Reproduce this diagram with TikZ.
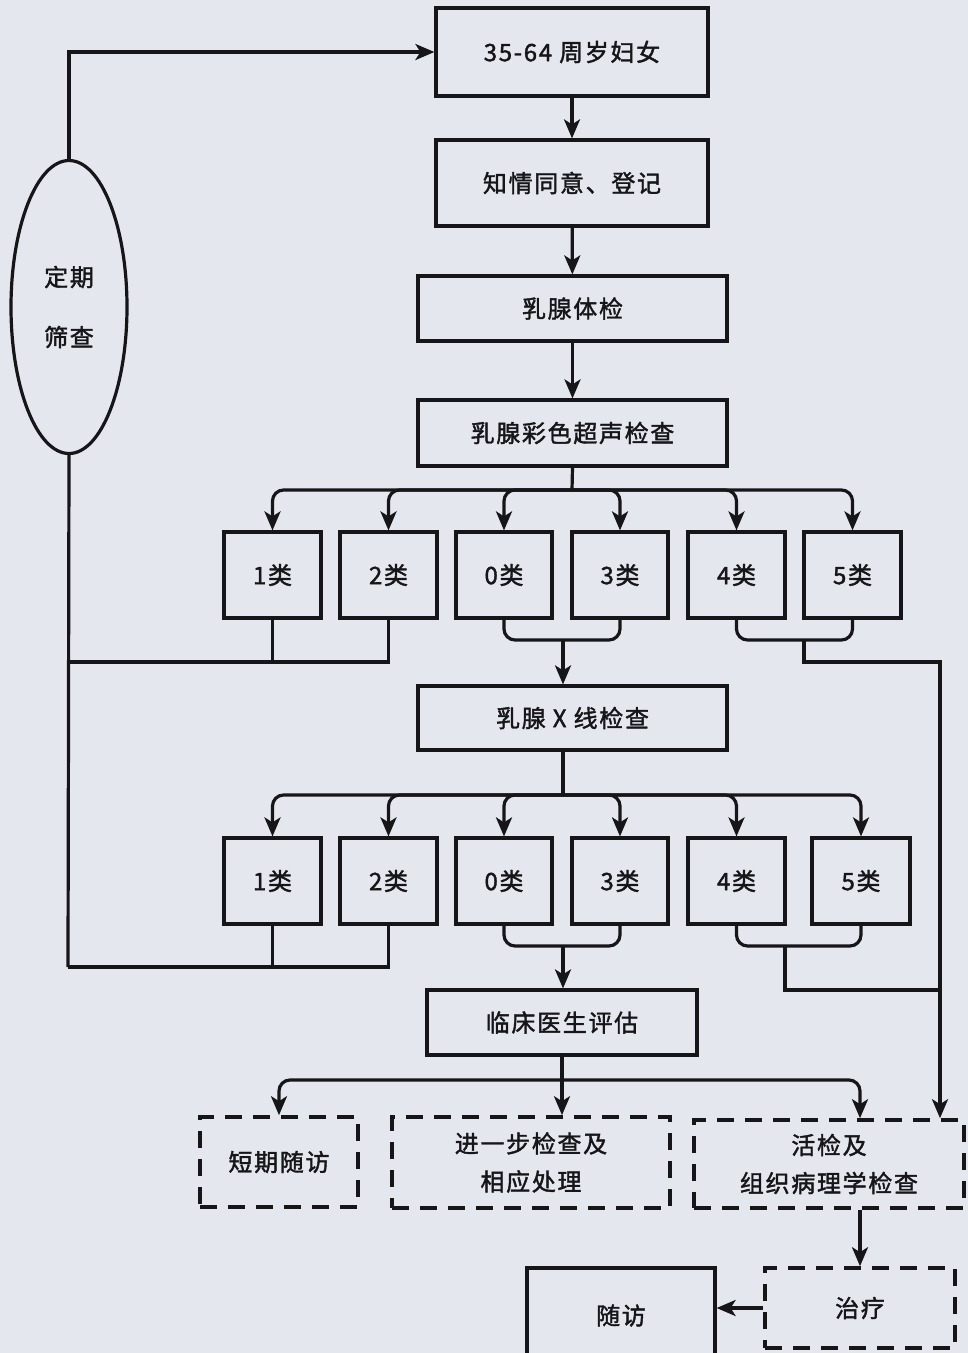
\documentclass[tikz,border=0pt]{standalone}
\usepackage{fontspec}
\newfontfamily\cjk{Noto Sans CJK SC}[LetterSpace=7,FakeBold=1.6]
\usetikzlibrary{arrows.meta,shapes.geometric}
\definecolor{bg}{RGB}{229,231,239}
\definecolor{ink}{RGB}{22,22,24}
\begin{document}
\begin{tikzpicture}[x=1pt,y=-1pt,
  ln/.style={draw=ink,line width=3.2pt},
  arr/.style={ln,-{Stealth[length=19pt,width=16pt,inset=5pt]}},
  rc/.style={rounded corners=11pt},
  box/.style={draw=ink,line width=3.2pt,inner sep=0pt,text=ink,font=\cjk\fontsize{24}{38}\selectfont,align=center},
  dbox/.style={box,dash pattern=on 17pt off 11pt,line width=3.6pt},
]
\useasboundingbox (0,0) rectangle (968,1353);
\fill[bg] (0,0) rectangle (968,1353);
\clip (0,0) rectangle (968,1353);

% main column
\node[box,minimum width=272,minimum height=88] (t1) at (572,52) {35-64 周岁妇女};
\node[box,minimum width=272,minimum height=86] (t2) at (572,183) {知情同意、登记};
\node[box,minimum width=309,minimum height=65] (t3) at (572.5,308.5) {乳腺体检};
\node[box,minimum width=309,minimum height=66] (t4) at (572.5,433) {乳腺彩色超声检查};

% ultrasound classes
\node[box,minimum width=97,minimum height=86] (ua) at (272.5,575) {1类};
\node[box,minimum width=97,minimum height=86] (ub) at (388.5,575) {2类};
\node[box,minimum width=96,minimum height=86] (uc) at (504,575) {0类};
\node[box,minimum width=96,minimum height=86] (ud) at (620,575) {3类};
\node[box,minimum width=97,minimum height=86] (ue) at (736.5,575) {4类};
\node[box,minimum width=97,minimum height=86] (uf) at (852.5,575) {5类};

\node[box,minimum width=309,minimum height=64] (xr) at (572.5,718) {乳腺 X 线检查};

% x-ray classes
\node[box,minimum width=97,minimum height=86] (xa) at (272.5,881) {1类};
\node[box,minimum width=97,minimum height=86] (xb) at (388.5,881) {2类};
\node[box,minimum width=96,minimum height=86] (xc) at (504,881) {0类};
\node[box,minimum width=96,minimum height=86] (xd) at (620,881) {3类};
\node[box,minimum width=97,minimum height=86] (xe) at (736.5,881) {4类};
\node[box,minimum width=98,minimum height=86] (xf) at (861,881) {5类};

\node[box,minimum width=270,minimum height=65] (cl) at (562,1022.5) {临床医生评估};

% outcomes
\node[dbox,minimum width=158,minimum height=90] (sa) at (279,1162) {短期随访};
\node[dbox,minimum width=278,minimum height=91] (sb) at (531,1162.5) {进一步检查及\\相应处理};
\node[dbox,minimum width=270,minimum height=88] (sc) at (829,1164) {活检及\\组织病理学检查};
\node[dbox,minimum width=190,minimum height=80] (zl) at (860,1308) {治疗};
\node[box,minimum width=188,minimum height=95] (sf) at (621,1315.5) {随访};

% ellipse
\node[draw=ink,line width=3.2pt,ellipse,minimum width=116,minimum height=293,inner sep=0pt,text=ink,font=\cjk\fontsize{24}{30}\selectfont,align=center] (el) at (69,307) {定期\\[30pt]筛查};

% coordinates
\coordinate (j1) at (572,490);
\coordinate (j2) at (563,795);
\coordinate (j3) at (562,1080);
\coordinate (lu) at (68,662);
\coordinate (lx) at (68,967);
\coordinate (b1) at (563,640);
\coordinate (b2) at (563,946);
\coordinate (b3) at (804,640);
\coordinate (b4) at (785,946);
\coordinate (rr) at (940,662);
\coordinate (rx) at (940,990);

% main arrows
\draw[arr] (t1) -- (t2);
\draw[arr] (t2) -- (t3);
\draw[arr] (t3) -- (t4);

% feedback loop
\draw[arr] (el.north) |- (t1.west);
\draw[ln] (el.south) -- (lx);

% ultrasound distribution
\draw[ln] (t4.south) -- (j1);
\foreach \n in {ua,ub,uc,ud,ue,uf} \draw[arr,rc] (j1) -| (\n.north);

% ultrasound 1/2 -> back to screening
\draw[ln] (ua.south) -- (ua.south |- lu);
\draw[ln] (ub.south) |- (lu);
% 0/3 bracket
\draw[ln,rc] (uc.south) |- (b1) -| (ud.south);
\draw[arr] (b1) -- (xr.north -| b1);
% 4/5 bracket
\draw[ln,rc] (ue.south) |- (b3) -| (uf.south);
\draw[ln] (b3) |- (rr) -- (rx);

% x-ray distribution
\draw[ln] (xr.south -| j2) -- (j2);
\foreach \n in {xa,xb,xc,xd,xe,xf} \draw[arr,rc] (j2) -| (\n.north);

\draw[ln] (xa.south) -- (xa.south |- lx);
\draw[ln] (xb.south) |- (lx);
\draw[ln,rc] (xc.south) |- (b2) -| (xd.south);
\draw[arr] (b2) -- (cl.north -| b2);
\draw[ln,rc] (xe.south) |- (b4) -| (xf.south);
\draw[ln] (b4) |- (rx);
\draw[arr] (rx) -- (sc.north -| rx);

% clinical distribution
\draw[ln] (cl.south) -- (j3);
\draw[arr,rc] (j3) -| (sa.north);
\draw[arr] (j3) -- (sb.north -| j3);
\draw[arr,rc] (j3) -| (sc.north -| zl.north);

\draw[arr] (sc.south -| zl.north) -- (zl.north);
\draw[arr] (zl.west) -- (sf.east |- zl.west);
\end{tikzpicture}
\end{document}
